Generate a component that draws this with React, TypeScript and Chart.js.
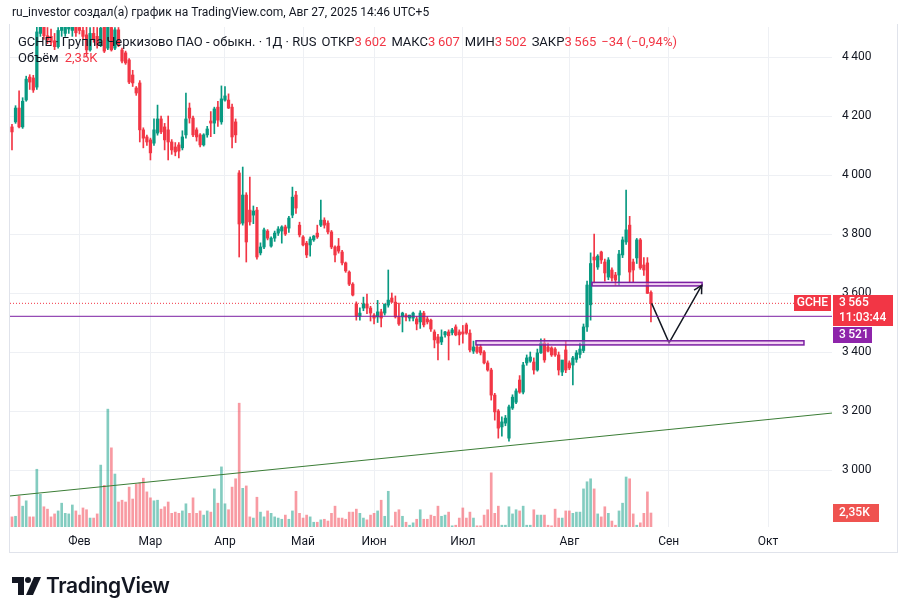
import { useEffect, useRef } from "react";
import { Chart, registerables } from "chart.js";

Chart.register(...registerables);

// Daily OHLC for GCHE, one entry per trading session (mid-January .. 27 August 2025)
const opens = [
  4163, 4180, 4227, 4163, 4254, 4332, 4329, 4298, 4480, 4505,
  4472, 4470, 4455, 4435, 4490, 4480, 4495, 4490, 4510, 4500,
  4490, 4475, 4424, 4480, 4470, 4440, 4502, 4430, 4500, 4430,
  4492, 4424, 4414, 4390, 4339, 4295, 4312, 4153, 4129, 4119,
  4108, 4142, 4190, 4163, 4153, 4112, 4095, 4102, 4092, 4136,
  4227, 4193, 4153, 4136, 4102, 4136, 4183, 4176, 4230, 4180,
  4254, 4254, 4230, 4180, 4007, 3837, 3932, 3881, 3864, 3881,
  3736, 3756, 3810, 3759, 3786, 3803, 3810, 3824, 3820, 3864,
  3932, 3830, 3790, 3769, 3763, 3780, 3803, 3830, 3847, 3837,
  3807, 3756, 3759, 3739, 3702, 3671, 3630, 3563, 3522, 3549,
  3563, 3549, 3525, 3519, 3536, 3532, 3559, 3583, 3569, 3519,
  3519, 3525, 3515, 3515, 3512, 3502, 3532, 3512, 3508, 3468,
  3451, 3434, 3458, 3468, 3465, 3485, 3468, 3468, 3492, 3464,
  3403, 3417, 3417, 3400, 3363, 3339, 3254, 3200, 3146, 3159,
  3108, 3210, 3230, 3305, 3264, 3363, 3369, 3366, 3339, 3397,
  3430, 3417, 3414, 3410, 3390, 3332, 3407, 3363, 3356, 3375,
  3392, 3405, 3485, 3560, 3722, 3688, 3739, 3705, 3654, 3678,
  3661, 3661, 3729, 3773, 3830, 3705, 3719, 3780, 3695, 3702,
  3602,
];
const highs = [
  4172, 4235, 4285, 4262, 4335, 4340, 4338, 4530, 4530, 4530,
  4500, 4495, 4480, 4500, 4525, 4520, 4525, 4525, 4525, 4525,
  4510, 4505, 4500, 4510, 4500, 4515, 4515, 4525, 4512, 4500,
  4500, 4430, 4420, 4395, 4355, 4300, 4320, 4160, 4135, 4125,
  4190, 4237, 4200, 4175, 4200, 4120, 4110, 4110, 4150, 4278,
  4244, 4200, 4160, 4140, 4140, 4165, 4215, 4230, 4250, 4302,
  4300, 4275, 4240, 4190, 4015, 4027, 3940, 3993, 3895, 3890,
  3770, 3820, 3815, 3790, 3810, 3825, 3828, 3830, 3860, 3959,
  3945, 3840, 3795, 3775, 3790, 3795, 3830, 3915, 3855, 3845,
  3812, 3760, 3785, 3745, 3705, 3675, 3635, 3570, 3550, 3586,
  3596, 3555, 3530, 3575, 3545, 3560, 3678, 3600, 3590, 3566,
  3535, 3530, 3525, 3535, 3520, 3540, 3538, 3520, 3512, 3475,
  3460, 3475, 3470, 3475, 3480, 3492, 3475, 3490, 3498, 3475,
  3437, 3425, 3425, 3405, 3370, 3345, 3260, 3205, 3180, 3185,
  3220, 3255, 3275, 3320, 3365, 3390, 3400, 3380, 3410, 3445,
  3445, 3430, 3418, 3415, 3400, 3370, 3437, 3370, 3385, 3405,
  3430, 3495, 3640, 3736, 3800, 3730, 3742, 3715, 3720, 3685,
  3670, 3745, 3790, 3949, 3860, 3715, 3785, 3785, 3720, 3720,
  3607,
];
const lows = [
  4085, 4175, 4160, 4158, 4250, 4290, 4280, 4290, 4470, 4460,
  4445, 4440, 4425, 4430, 4470, 4470, 4480, 4470, 4470, 4478,
  4460, 4403, 4420, 4450, 4430, 4435, 4415, 4425, 4420, 4425,
  4435, 4380, 4375, 4310, 4300, 4270, 4112, 4092, 4100, 4051,
  4100, 4135, 4140, 4085, 4051, 4070, 4065, 4058, 4085, 4125,
  4176, 4130, 4115, 4095, 4098, 4128, 4130, 4140, 4165, 4172,
  4250, 4225, 4092, 4110, 3722, 3830, 3705, 3830, 3835, 3715,
  3729, 3750, 3780, 3755, 3775, 3795, 3769, 3795, 3805, 3855,
  3870, 3790, 3760, 3720, 3725, 3775, 3785, 3825, 3820, 3800,
  3750, 3705, 3735, 3695, 3670, 3625, 3590, 3508, 3508, 3540,
  3530, 3505, 3495, 3500, 3485, 3525, 3552, 3568, 3515, 3490,
  3468, 3505, 3505, 3505, 3475, 3480, 3485, 3495, 3470, 3414,
  3373, 3425, 3450, 3373, 3458, 3455, 3424, 3430, 3460, 3400,
  3395, 3395, 3390, 3360, 3335, 3237, 3169, 3108, 3115, 3150,
  3098, 3205, 3225, 3260, 3258, 3355, 3365, 3325, 3335, 3395,
  3365, 3400, 3385, 3385, 3322, 3320, 3330, 3340, 3288, 3365,
  3380, 3398, 3470, 3508, 3634, 3680, 3700, 3640, 3645, 3640,
  3626, 3626, 3720, 3765, 3637, 3637, 3700, 3680, 3660, 3598,
  3502,
];
const closes = [
  4146, 4227, 4163, 4250, 4325, 4315, 4288, 4485, 4505, 4472,
  4458, 4450, 4435, 4490, 4505, 4510, 4515, 4510, 4482, 4490,
  4470, 4424, 4480, 4462, 4440, 4498, 4420, 4505, 4424, 4492,
  4441, 4386, 4380, 4315, 4312, 4278, 4153, 4125, 4112, 4075,
  4153, 4190, 4146, 4119, 4112, 4085, 4078, 4081, 4129, 4190,
  4193, 4136, 4129, 4102, 4136, 4156, 4176, 4224, 4186, 4258,
  4268, 4227, 4129, 4136, 3834, 3932, 3773, 3841, 3878, 3722,
  3756, 3814, 3786, 3786, 3803, 3817, 3824, 3800, 3854, 3925,
  3888, 3797, 3763, 3729, 3783, 3793, 3790, 3847, 3830, 3807,
  3756, 3729, 3742, 3702, 3675, 3630, 3593, 3522, 3532, 3563,
  3549, 3532, 3515, 3536, 3515, 3563, 3576, 3569, 3519, 3495,
  3532, 3518, 3525, 3532, 3495, 3532, 3492, 3502, 3478, 3441,
  3430, 3451, 3468, 3455, 3475, 3458, 3458, 3461, 3464, 3407,
  3417, 3400, 3397, 3363, 3339, 3254, 3197, 3142, 3163, 3176,
  3214, 3247, 3268, 3264, 3356, 3380, 3383, 3339, 3397, 3430,
  3373, 3403, 3390, 3390, 3339, 3373, 3339, 3346, 3380, 3397,
  3410, 3485, 3627, 3700, 3712, 3725, 3712, 3668, 3712, 3651,
  3644, 3732, 3780, 3814, 3671, 3678, 3780, 3685, 3678, 3599,
  3565,
];
// Session volume, thousands of lots
const volumesK = [
  1.7, 1.8, 5.2, 3.5, 4.4, 1.7, 1.7, 9.7, 5.5, 3.4,
  3.0, 1.7, 2.2, 2.7, 4.0, 2.3, 2.2, 3.7, 2.7, 2.0,
  3.2, 2.9, 1.5, 1.5, 2.2, 10.4, 7.0, 19.8, 13.3, 8.9,
  4.2, 4.5, 4.2, 6.7, 4.7, 7.2, 7.4, 8.2, 5.9, 4.9,
  4.4, 4.5, 3.0, 3.4, 4.2, 2.3, 2.5, 2.3, 2.7, 3.9,
  2.3, 4.9, 2.3, 2.7, 2.0, 2.7, 2.5, 6.4, 4.0, 10.1,
  3.9, 2.9, 6.7, 8.1, 20.8, 6.5, 6.9, 1.7, 1.5, 5.0,
  2.5, 1.7, 2.7, 2.3, 1.7, 1.5, 1.3, 2.0, 1.3, 2.7,
  6.0, 2.3, 1.5, 2.0, 1.7, 0.8, 0.8, 1.2, 1.3, 1.0,
  2.3, 3.5, 1.5, 1.5, 1.3, 2.5, 2.5, 3.0, 2.3, 1.5,
  1.2, 2.0, 2.3, 2.7, 4.5, 1.8, 6.0, 0.2, 2.5, 2.9,
  1.8, 0.8, 0.3, 0.7, 1.3, 2.9, 1.3, 1.3, 2.0, 1.8,
  3.5, 1.8, 2.0, 2.5, 0.2, 0.3, 1.5, 3.2, 1.5, 2.5,
  1.5, 0.2, 0.2, 2.0, 2.9, 9.1, 2.3, 3.5, 0.3, 0.3,
  3.4, 2.2, 2.9, 2.7, 3.5, 0.3, 0.3, 2.9, 2.0, 2.0,
  2.0, 0.3, 0.2, 3.0, 1.5, 1.5, 2.7, 2.7, 2.3, 2.5,
  2.5, 6.4, 7.6, 8.1, 6.4, 2.2, 1.7, 3.4, 2.3, 1.0,
  0.3, 2.7, 4.0, 8.4, 8.1, 2.2, 0.3, 0.7, 2.3, 5.9,
  2.35,
];

// Time axis: bar index of the first session of each month
const monthTickIndex = [19, 39, 60, 82, 102, 127, 157, 185, 213];
const monthNames = ["Фев", "Мар", "Апр", "Май", "Июн", "Июл", "Авг", "Сен", "Окт"];
const priceTicks = [3000, 3200, 3400, 3600, 3800, 4000, 4200, 4400];

// Visible ranges of the two axes
const X_MIN = -0.56;
const X_MAX = 231.0;
const Y_MIN = 2806.8;
const Y_MAX = 4501.7;
const VOL_MAX = 84;

// Drawings: support trend line, horizontal level, two zones, forecast path
const trendLine = [
  { x: X_MIN, y: 2912 },
  { x: X_MAX, y: 3193 },
];
const levelPrice = 3521;
const zones = [
  { from: 163.4, to: 194.4, high: 3636, low: 3624 },
  { from: 130.7, to: 223.1, high: 3438, low: 3424 },
];
const forecastPath = [
  { x: 180.2, y: 3565 },
  { x: 185.1, y: 3431 },
  { x: 194.3, y: 3626 },
];
const ticker = "GCHE";
const countdown = "11:03:44";

const GREEN = "#089981";
const RED = "#f23645";
const GREEN_SOFT = "rgba(8,153,129,0.5)";
const RED_SOFT = "rgba(242,54,69,0.5)";
const PURPLE = "#7b1fa2";
const PURPLE_LABEL = "#8e24aa";
const ZONE_FILL = "rgba(232,170,232,0.5)";
const TREND = "#3b7d36";
const GRID = "#eef0f4";
const TEXT = "#131722";
const FONT = "Roboto, 'Noto Sans', sans-serif";

const fmtPrice = (v: number) => {
  const s = String(Math.round(Math.abs(v)));
  const body = s.length > 3 ? s.slice(0, s.length - 3) + "\u2009" + s.slice(-3) : s;
  return (v < 0 ? "\u2212" : "") + body;
};
const fmtVol = (v: number) => v.toFixed(2).replace(".", ",") + "K";

const last = closes.length - 1;
const change = closes[last] - closes[last - 1];
const changePct = (change / closes[last - 1]) * 100;
const changeText =
  (change < 0 ? "\u2212" : "+") +
  Math.abs(change) +
  " (" +
  (changePct < 0 ? "\u2212" : "+") +
  Math.abs(changePct).toFixed(2).replace(".", ",") +
  "%)";

const isUp = (i: number) => closes[i] >= opens[i];

const overlayPlugin = {
  id: "overlays",
  afterDatasetsDraw(chart: any) {
    const { ctx, chartArea } = chart;
    const x = chart.scales.x;
    const y = chart.scales.y;
    ctx.save();
    ctx.beginPath();
    ctx.rect(chartArea.left, chartArea.top, chartArea.right - chartArea.left, chartArea.bottom - chartArea.top);
    ctx.clip();
    for (const z of zones) {
      const x0 = x.getPixelForValue(z.from);
      const x1 = x.getPixelForValue(z.to);
      const y0 = y.getPixelForValue(z.high);
      const y1 = y.getPixelForValue(z.low);
      ctx.fillStyle = ZONE_FILL;
      ctx.fillRect(x0, y0, x1 - x0, y1 - y0);
      ctx.strokeStyle = PURPLE;
      ctx.lineWidth = 1.5;
      ctx.strokeRect(x0, y0, x1 - x0, y1 - y0);
    }
    // arrow head at the end of the forecast path
    const a = forecastPath[forecastPath.length - 2];
    const b = forecastPath[forecastPath.length - 1];
    const ax = x.getPixelForValue(a.x);
    const ay = y.getPixelForValue(a.y);
    const bx = x.getPixelForValue(b.x);
    const by = y.getPixelForValue(b.y);
    const ang = Math.atan2(by - ay, bx - ax);
    const L = 9;
    ctx.strokeStyle = TEXT;
    ctx.lineWidth = 1.5;
    ctx.beginPath();
    ctx.moveTo(bx - L * Math.cos(ang - 0.5), by - L * Math.sin(ang - 0.5));
    ctx.lineTo(bx, by);
    ctx.lineTo(bx - L * Math.cos(ang + 0.5), by - L * Math.sin(ang + 0.5));
    ctx.stroke();
    ctx.restore();
  },
  afterDraw(chart: any) {
    const { ctx, chartArea } = chart;
    const y = chart.scales.y;
    const yv = chart.scales.yv;
    const right = chartArea.right;
    ctx.save();
    ctx.textBaseline = "middle";
    ctx.font = `500 12px ${FONT}`;

    const py = Math.round(y.getPixelForValue(closes[last]));
    // ticker tag on the price line
    ctx.fillStyle = RED;
    ctx.fillRect(right - 38, py - 8, 37, 16);
    ctx.fillStyle = "#fff";
    ctx.textAlign = "center";
    ctx.fillText(ticker, right - 19.5, py);

    // last price with countdown
    ctx.fillStyle = RED;
    ctx.fillRect(right + 1, py - 8, 60, 31);
    ctx.fillStyle = "#fff";
    ctx.textAlign = "left";
    ctx.fillText(fmtPrice(closes[last]), right + 7, py);
    ctx.fillText(countdown, right + 7, py + 15);

    // level tag
    ctx.fillStyle = PURPLE_LABEL;
    ctx.fillRect(right + 1, py + 24, 39, 16);
    ctx.fillStyle = "#fff";
    ctx.fillText(fmtPrice(levelPrice), right + 7, py + 32);

    // volume tag
    const vy = Math.round(yv.getPixelForValue(volumesK[last]));
    ctx.fillStyle = "#ef5350";
    ctx.fillRect(right + 1, vy - 9, 46, 18);
    ctx.fillStyle = "#fff";
    ctx.fillText(fmtVol(volumesK[last]), right + 7, vy);
    ctx.restore();
  },
};

function TvLogo() {
  return (
    <svg width="30" height="18" viewBox="0 0 30 18" style={{ position: "absolute", left: 12, top: 577 }}>
      <path d="M0 0 H12 V18 H6 V6 H0 Z" fill={TEXT} />
      <circle cx="16" cy="3" r="3" fill={TEXT} />
      <path d="M22 0 H29 L21 18 H14 Z" fill={TEXT} />
    </svg>
  );
}

export default function App() {
  const canvasRef = useRef<HTMLCanvasElement>(null);

  useEffect(() => {
    const canvas = canvasRef.current;
    if (!canvas) return;
    const idx = closes.map((_, i) => i);
    const candleColors = idx.map((i) => (isUp(i) ? GREEN : RED));
    const volumeColors = idx.map((i) => (isUp(i) ? GREEN_SOFT : RED_SOFT));

    const chart = new Chart(canvas, {
      type: "bar",
      data: {
        datasets: [
          {
            type: "line",
            label: "Уровень",
            data: [
              { x: X_MIN, y: levelPrice },
              { x: X_MAX, y: levelPrice },
            ],
            borderColor: PURPLE,
            borderWidth: 1,
            pointRadius: 0,
            yAxisID: "y",
            order: 0,
          },
          {
            type: "line",
            label: "Прогноз",
            data: forecastPath,
            borderColor: TEXT,
            borderWidth: 1.5,
            pointRadius: 0,
            tension: 0,
            yAxisID: "y",
            order: 0,
          },
          {
            type: "bar",
            label: "Тело",
            data: idx.map((i) => ({ x: i, y: [opens[i], closes[i]] })),
            backgroundColor: candleColors,
            barThickness: 2.6,
            minBarLength: 1,
            grouped: false,
            yAxisID: "y",
            order: 1,
          },
          {
            type: "bar",
            label: "Тень",
            data: idx.map((i) => ({ x: i, y: [lows[i], highs[i]] })),
            backgroundColor: candleColors,
            barThickness: 1,
            grouped: false,
            yAxisID: "y",
            order: 2,
          },
          {
            type: "line",
            label: "Цена",
            data: [
              { x: X_MIN, y: closes[last] },
              { x: X_MAX, y: closes[last] },
            ],
            borderColor: RED,
            borderWidth: 1,
            borderDash: [1, 2],
            pointRadius: 0,
            yAxisID: "y",
            order: 3,
          },
          {
            type: "line",
            label: "Тренд",
            data: trendLine,
            borderColor: TREND,
            borderWidth: 1,
            pointRadius: 0,
            yAxisID: "y",
            order: 4,
          },
          {
            type: "bar",
            label: "Объём",
            data: idx.map((i) => ({ x: i, y: volumesK[i] })),
            backgroundColor: volumeColors,
            barThickness: 2,
            grouped: false,
            yAxisID: "yv",
            order: 9,
          },
        ] as any,
      },
      options: {
        responsive: false,
        animation: false,
        devicePixelRatio: 1,
        events: [],
        layout: { padding: { left: 10, top: 27, right: 10, bottom: 63 } },
        plugins: { legend: { display: false }, tooltip: { enabled: false } },
        scales: {
          x: {
            type: "linear",
            min: X_MIN,
            max: X_MAX,
            offset: false,
            grid: { color: GRID, offset: false, drawTicks: false },
            border: { display: false },
            ticks: {
              autoSkip: false,
              maxRotation: 0,
              padding: 8,
              color: TEXT,
              font: { family: FONT, size: 12 },
              callback: (v: any) => {
                const k = monthTickIndex.indexOf(Number(v));
                return k >= 0 ? monthNames[k] : "";
              },
            },
            afterBuildTicks: (s: any) => {
              s.ticks = monthTickIndex.map((v) => ({ value: v }));
            },
            afterFit: (s: any) => {
              s.height = 26;
            },
          },
          y: {
            position: "right",
            min: Y_MIN,
            max: Y_MAX,
            grid: { color: GRID, drawTicks: false },
            border: { display: false },
            ticks: {
              padding: 10,
              color: TEXT,
              font: { family: FONT, size: 12 },
              callback: (v: any) => fmtPrice(Number(v)),
            },
            afterBuildTicks: (s: any) => {
              s.ticks = priceTicks.map((v) => ({ value: v }));
            },
            afterFit: (s: any) => {
              s.width = 66;
            },
          },
          yv: { display: false, min: 0, max: VOL_MAX },
        },
      } as any,
      plugins: [overlayPlugin],
    });
    return () => chart.destroy();
  }, []);

  const valueStyle = { color: RED };
  const gap = { marginLeft: 5 };

  return (
    <div
      style={{
        position: "fixed",
        left: 0,
        top: 0,
        width: 908,
        height: 616,
        background: "#fff",
        overflow: "hidden",
        fontFamily: FONT,
        color: TEXT,
      }}
    >
      <div
        style={{
          position: "absolute",
          left: 9,
          top: 24,
          width: 889,
          height: 529,
          borderLeft: "1px solid #e0e3eb",
          borderRight: "1px solid #e0e3eb",
          borderBottom: "1px solid #e0e3eb",
          boxSizing: "border-box",
        }}
      />
      <canvas ref={canvasRef} width={908} height={616} style={{ position: "absolute", left: 0, top: 0 }} />
      <div style={{ position: "absolute", left: 12, top: 5, fontSize: 12, whiteSpace: "nowrap" }}>
        ru_investor создал(а) график на TradingView.com, Авг 27, 2025 14:46 UTC+5
      </div>
      <div style={{ position: "absolute", left: 18, top: 34, fontSize: 13, whiteSpace: "nowrap" }}>
        <span>GCHE · Группа Черкизово ПАО - обыкн. · 1Д · RUS</span>
        <span style={gap}>ОТКР</span>
        <span style={valueStyle}>{fmtPrice(opens[last])}</span>
        <span style={gap}>МАКС</span>
        <span style={valueStyle}>{fmtPrice(highs[last])}</span>
        <span style={gap}>МИН</span>
        <span style={valueStyle}>{fmtPrice(lows[last])}</span>
        <span style={gap}>ЗАКР</span>
        <span style={valueStyle}>{fmtPrice(closes[last])}</span>
        <span style={{ ...gap, ...valueStyle }}>{changeText}</span>
      </div>
      <div style={{ position: "absolute", left: 18, top: 50, fontSize: 13, whiteSpace: "nowrap" }}>
        <span>Объём</span>
        <span style={{ ...valueStyle, marginLeft: 6 }}>{fmtVol(volumesK[last])}</span>
      </div>
      <TvLogo />
      <div
        style={{
          position: "absolute",
          left: 46,
          top: 573,
          fontSize: 21,
          fontWeight: 600,
          letterSpacing: -0.4,
          fontFamily: "Inter, Roboto, sans-serif",
        }}
      >
        TradingView
      </div>
    </div>
  );
}
